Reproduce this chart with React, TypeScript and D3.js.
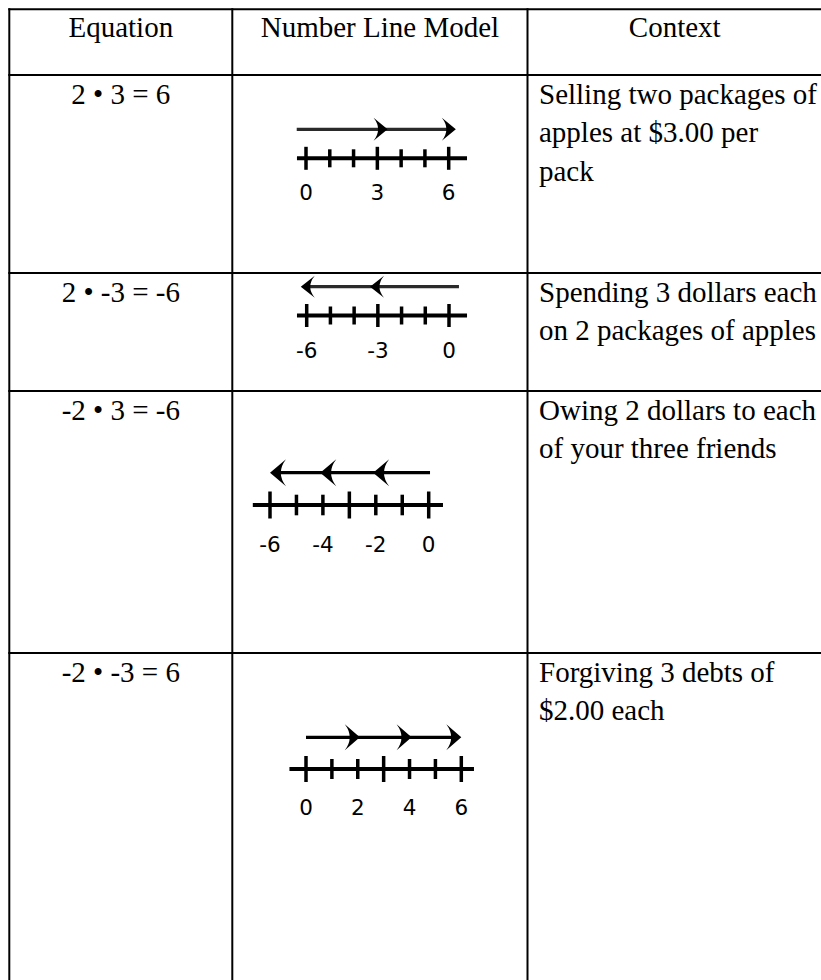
import React from 'react'
import * as d3 from 'd3'

// table content
const headers = ['Equation', 'Number Line Model', 'Context']
const equations = ['2 • 3 = 6', '2 • -3 = -6', '-2 • 3 = -6', '-2 • -3 = 6']
const contextRow1 = ['Selling two packages of', 'apples at $3.00 per', 'pack']
const contextRow2 = ['Spending 3 dollars each', 'on 2 packages of apples']
const contextRow3 = ['Owing 2 dollars to each', 'of your three friends']
const contextRow4 = ['Forgiving 3 debts of', '$2.00 each']
const contexts = [contextRow1, contextRow2, contextRow3, contextRow4]

// number line values (units)
const domains = [[0, 6], [-6, 0], [-6, 0], [0, 6]]
const tickLabels = [[0, 3, 6], [-6, -3, 0], [-6, -4, -2, 0], [0, 2, 4, 6]]
const arrowStarts = [-0.39, 0.42, 0.05, 0]
const arrowHeads = [[3.43, 6.3], [-3.33, -6.25], [-2.1, -4.1, -6], [2.08, 4.08, 6]]
const axisExtents = [[-0.38, 6.77], [-6.41, 0.76], [-6.65, 0.54], [-0.64, 6.49]]

// layout
const W = 821
const H = 980
const colX = [9.3, 232.3, 527.5, 822]
const rowY = [9.3, 75, 273, 391, 653, 1000]
const lineLayout = [
  { x0: 306, x1: 448.7, axisY: 158.3, arrowY: 129.3, labelY: 200, major: 11.5, minor: 9, headLen: 14, headHalf: 11.5, shaft: '#2a2a2a' },
  { x0: 306.7, x1: 449, axisY: 315.5, arrowY: 286.7, labelY: 358.3, major: 11.5, minor: 9, headLen: 14, headHalf: 11, shaft: '#2a2a2a' },
  { x0: 270, x1: 428.7, axisY: 505, arrowY: 472.7, labelY: 551.7, major: 13.5, minor: 10.3, headLen: 16, headHalf: 13.5, shaft: '#000' },
  { x0: 306, x1: 461.3, axisY: 769, arrowY: 737.3, labelY: 815, major: 13, minor: 10, headLen: 15, headHalf: 13, shaft: '#000' },
]

const serif = "'Liberation Serif', 'Times New Roman', serif"
const sans = "'DejaVu Sans', Verdana, sans-serif"

function NumberLine({ i }: { i: number }) {
  const L = lineLayout[i]
  const x = d3.scaleLinear().domain(domains[i]).range([L.x0, L.x1])
  const ticks = d3.range(domains[i][0], domains[i][1] + 1)
  const start = arrowStarts[i]
  const heads = arrowHeads[i]
  const far = heads[heads.length - 1]
  const dir = Math.sign(far - start)

  const headPath = (v: number) => {
    const tip = x(v)
    const back = tip - dir * L.headLen
    const ctrl = tip - dir * L.headLen * 0.35
    const p = d3.path()
    p.moveTo(tip, L.arrowY)
    p.lineTo(back, L.arrowY - L.headHalf)
    p.quadraticCurveTo(ctrl, L.arrowY, back, L.arrowY + L.headHalf)
    p.closePath()
    return p.toString()
  }

  const shaftEnd = x(far) - dir * L.headLen * 0.6

  return (
    <g>
      <line x1={x(start)} x2={shaftEnd} y1={L.arrowY} y2={L.arrowY} stroke={L.shaft} strokeWidth={3.2} />
      {heads.map((h, k) => (
        <path key={k} d={headPath(h)} fill="#000" />
      ))}
      <line
        x1={x(axisExtents[i][0])}
        x2={x(axisExtents[i][1])}
        y1={L.axisY}
        y2={L.axisY}
        stroke="#000"
        strokeWidth={4}
      />
      {ticks.map((t, k) => {
        const len = k % 3 === 0 ? L.major : L.minor
        return (
          <line key={t} x1={x(t)} x2={x(t)} y1={L.axisY - len} y2={L.axisY + len} stroke="#000" strokeWidth={3.5} />
        )
      })}
      {tickLabels[i].map((t) => (
        <text key={t} x={x(t)} y={L.labelY} textAnchor="middle" fontFamily={sans} fontSize={21.5} fill="#000">
          {String(t)}
        </text>
      ))}
    </g>
  )
}

export default function App() {
  const colCenter = (c: number) => (colX[c] + colX[c + 1]) / 2
  const lineHeight = 38.3

  return (
    <svg width={W} height={H} style={{ position: 'absolute', left: 0, top: 0, display: 'block', background: '#fff' }}>
      <rect x={0} y={0} width={W} height={H} fill="#fff" />

      {/* header */}
      {headers.map((h, c) => (
        <text key={h} x={colCenter(c)} y={rowY[0] + 28} textAnchor="middle" fontFamily={serif} fontSize={29} fill="#000">
          {h}
        </text>
      ))}

      {/* body rows */}
      {equations.map((eq, r) => (
        <g key={eq}>
          <text x={colCenter(0)} y={rowY[r + 1] + 29} textAnchor="middle" fontFamily={serif} fontSize={29} fill="#000">
            {eq}
          </text>
          {contexts[r].map((s, k) => (
            <text key={k} x={539} y={rowY[r + 1] + 29 + k * lineHeight} fontFamily={serif} fontSize={29} fill="#000">
              {s}
            </text>
          ))}
          <NumberLine i={r} />
        </g>
      ))}

      {/* grid */}
      {rowY.slice(0, 5).map((y, k) => (
        <line key={'h' + k} x1={colX[0] - 1} x2={colX[3] + 1} y1={y} y2={y} stroke="#000" strokeWidth={2} />
      ))}
      {colX.map((xv, k) => (
        <line key={'v' + k} x1={xv} x2={xv} y1={rowY[0] - 1} y2={H} stroke="#000" strokeWidth={2} />
      ))}
    </svg>
  )
}
